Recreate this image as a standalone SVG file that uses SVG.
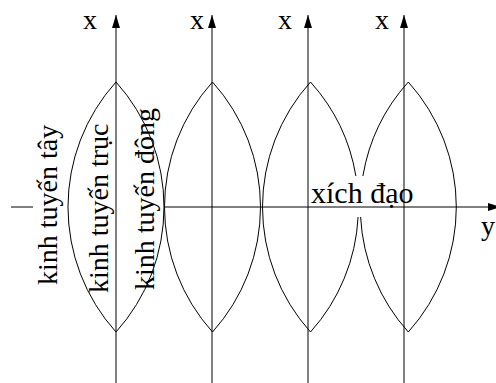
<svg xmlns="http://www.w3.org/2000/svg" width="496" height="383" viewBox="0 0 496 383">
<style>
.ln{stroke:#000;stroke-width:1;fill:none}
.t{font-family:"Liberation Serif","Times New Roman",serif;fill:#000}
</style>
<defs>
<marker id="ah" markerWidth="14" markerHeight="8" refX="13" refY="4" orient="auto" markerUnits="userSpaceOnUse">
<path d="M0,0 L13,4 L0,8 Z" fill="#000"/>
</marker>
</defs>
<rect width="496" height="383" fill="#fff"/>
<g id="lens1"><path class="ln" d="M116,82 A186.76,186.76 0 0 0 116,332 A186.76,186.76 0 0 0 116,82"/></g>
<g id="lens2"><path class="ln" d="M212.5,82 A186.76,186.76 0 0 0 212.5,332 A186.76,186.76 0 0 0 212.5,82"/></g>
<g id="lens3"><path class="ln" d="M310.5,82 A186.76,186.76 0 0 0 310.5,332"/>
<path class="ln" d="M310.5,82 A186.76,186.76 0 0 1 355.9,176"/>
<path class="ln" d="M358.1,217 A186.76,186.76 0 0 1 310.5,332"/></g>
<g id="lens4"><path class="ln" d="M408.3,82 A186.76,186.76 0 0 1 408.3,332"/>
<path class="ln" d="M408.3,82 A186.76,186.76 0 0 0 362.9,176"/>
<path class="ln" d="M360.6,217 A186.76,186.76 0 0 0 408.3,332"/></g>
<g id="connectors">
<line class="ln" x1="116" y1="390" x2="116" y2="15" marker-end="url(#ah)"/>
<line class="ln" x1="212" y1="390" x2="212" y2="15" marker-end="url(#ah)"/>
<line class="ln" x1="308" y1="390" x2="308" y2="15" marker-end="url(#ah)"/>
<line class="ln" x1="404" y1="390" x2="404" y2="15" marker-end="url(#ah)"/>
<line class="ln" x1="164" y1="207" x2="501" y2="207" marker-end="url(#ah)"/>
<line class="ln" x1="11" y1="207" x2="33" y2="207"/>
</g>
<g id="labels">
<text class="t" x="83" y="29" font-size="28">x</text>
<text class="t" x="190" y="29" font-size="28">x</text>
<text class="t" x="278" y="29" font-size="28">x</text>
<text class="t" x="375" y="29" font-size="28">x</text>
<text class="t" x="481" y="235" font-size="28">y</text>
<text class="t" x="311" y="203" font-size="30">xích đạo</text>
<text class="t" font-size="28" transform="translate(57,285) rotate(-90)">kinh tuyến tây</text>
<text class="t" font-size="28" transform="translate(108,293) rotate(-90)">kinh tuyến trục</text>
<text class="t" font-size="28" transform="translate(154,290) rotate(-90)">kinh tuyến đông</text>
</g>
</svg>
